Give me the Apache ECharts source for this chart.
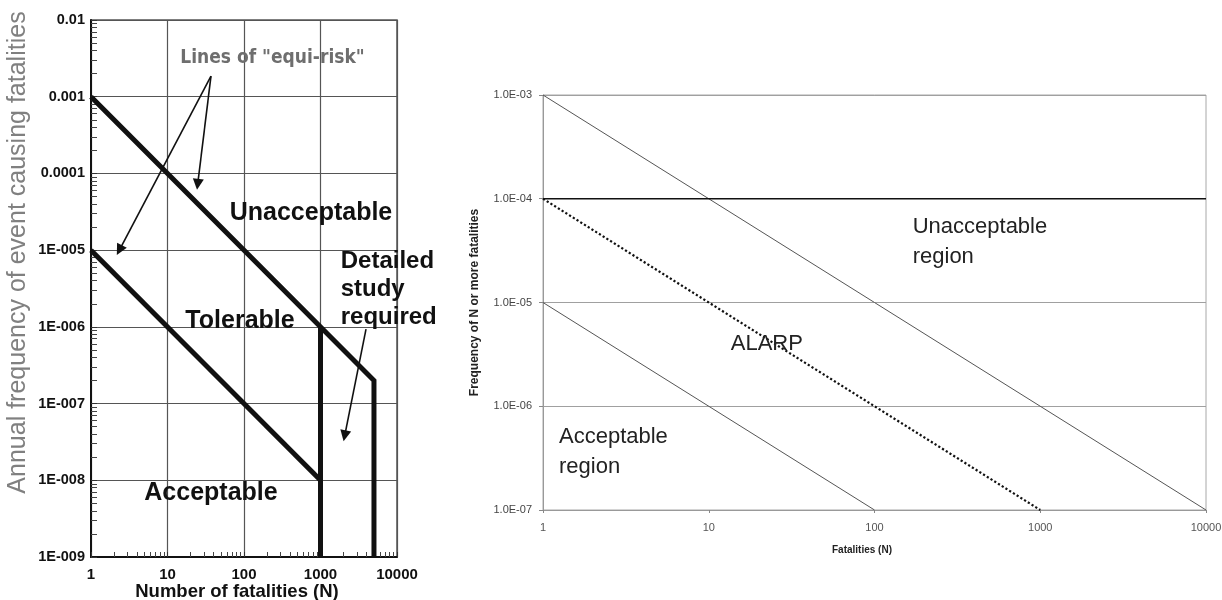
<!DOCTYPE html>
<html>
<head>
<meta charset="utf-8">
<script src="https://cdn.jsdelivr.net/npm/echarts@6/dist/echarts.min.js"></script>
<style>
html,body{margin:0;padding:0;background:#fff;}
#chart{width:1222px;height:600px;}
</style>
</head>
<body>
<div id="chart"></div>
<script>
// ---------- Left chart (F-N criterion) ----------
const leftXTickLabels = ['1', '10', '100', '1000', '10000'];
const leftYTickLabels = ['1E-009', '1E-008', '1E-007', '1E-006', '1E-005', '0.0001', '0.001', '0.01'];
const upperLineN = [1, 5000, 5000];
const upperLineF = [1e-3, 2e-7, 1e-9];
const lowerLineN = [1, 1000];
const lowerLineF = [1e-5, 1e-8];
const cutoffLineN = [1000, 1000];
const cutoffLineF = [1e-6, 1e-9];

// ---------- Right chart (ALARP) ----------
const rightXTickLabels = ['1', '10', '100', '1000', '10000'];
const rightYTickLabels = ['1.0E-07', '1.0E-06', '1.0E-05', '1.0E-04', '1.0E-03'];
const upperCritN = [1, 10000];
const upperCritF = [1e-3, 1e-7];
const alarpN = [1, 1000];
const alarpF = [1e-4, 1e-7];
const lowerCritN = [1, 100];
const lowerCritF = [1e-5, 1e-7];
const maxFreqN = [1, 10000];
const maxFreqF = [1e-4, 1e-4];

const FONT = '"Liberation Sans", Arial, sans-serif';
const pairs = (xs, ys) => xs.map((x, i) => [x, ys[i]]);
const expIdx = (v, offset) => Math.round(Math.log10(v)) + offset;

const chart = echarts.init(document.getElementById('chart'), null, {renderer: 'canvas'});

function lineSeries(name, xi, yi, data, style) {
  return {
    name, type: 'line', xAxisIndex: xi, yAxisIndex: yi, data,
    showSymbol: false, symbol: 'none', silent: true, animation: false,
    lineStyle: Object.assign({join: 'miter', cap: 'butt'}, style), z: 5
  };
}

function textItem(name, value, label) {
  return {name, value, label: Object.assign({show: true, formatter: '{b}', opacity: 1, textBorderWidth: 0}, label)};
}

const boldBig = {fontFamily: FONT, fontWeight: 'bold', fontSize: 25, color: '#111', position: 'inside'};
const rightTxt = {fontFamily: FONT, fontSize: 22, color: '#222', lineHeight: 30};

const option = {
  backgroundColor: '#ffffff',
  animation: false,
  grid: [
    {left: 91, top: 20, width: 306, height: 537, show: true, borderColor: '#555', borderWidth: 1.5,
     backgroundColor: 'transparent', containLabel: false, outerBoundsMode: 'none'},
    {left: 543, top: 95, width: 663, height: 415, show: true, borderColor: '#a8a8a8', borderWidth: 1,
     backgroundColor: 'transparent', containLabel: false, outerBoundsMode: 'none'}
  ],
  xAxis: [
    {
      type: 'log', logBase: 10, gridIndex: 0, min: 1, max: 10000,
      name: 'Number of fatalities (N)', nameLocation: 'middle', nameGap: 25, nameMoveOverlap: false,
      nameTextStyle: {fontFamily: FONT, fontWeight: 'bold', fontSize: 18.5, color: '#111', padding: [0, 14, 0, 0]},
      axisLine: {show: true, lineStyle: {color: '#111', width: 2}},
      axisTick: {show: true, inside: true, length: 5, lineStyle: {color: '#333'}},
      minorTick: {show: true, splitNumber: 9, length: 5, lineStyle: {color: '#444', width: 1}},
      splitLine: {show: true, lineStyle: {color: '#555', width: 1.2}},
      axisLabel: {fontFamily: FONT, fontWeight: 'bold', fontSize: 15, color: '#111', margin: 10,
        formatter: v => leftXTickLabels[expIdx(v, 0)]}
    },
    {
      type: 'log', logBase: 10, gridIndex: 1, min: 1, max: 10000,
      name: 'Fatalities (N)', nameLocation: 'middle', nameGap: 35,
      nameTextStyle: {fontFamily: FONT, fontWeight: 'bold', fontSize: 10, color: '#222', padding: [0, 25, 0, 0]},
      axisLine: {show: true, lineStyle: {color: '#999', width: 1}},
      axisTick: {show: true, length: 3, lineStyle: {color: '#888'}},
      splitLine: {show: false},
      axisLabel: {fontFamily: FONT, fontSize: 11, color: '#555', margin: 12,
        formatter: v => rightXTickLabels[expIdx(v, 0)]}
    }
  ],
  yAxis: [
    {
      type: 'log', logBase: 10, gridIndex: 0, min: 1e-9, max: 1e-2,
      name: 'Annual frequency of event causing fatalities', nameLocation: 'middle', nameGap: 60, nameRotate: 90,
      nameTextStyle: {fontFamily: FONT, fontSize: 25, color: '#808080', padding: [0, 0, 0, 72]},
      axisLine: {show: true, lineStyle: {color: '#111', width: 2}},
      axisTick: {show: true, inside: true, length: 6, lineStyle: {color: '#333'}},
      minorTick: {show: true, splitNumber: 9, length: 6, lineStyle: {color: '#444', width: 1}},
      splitLine: {show: true, lineStyle: {color: '#555', width: 1.2}},
      axisLabel: {fontFamily: FONT, fontWeight: 'bold', fontSize: 14.5, color: '#111', margin: 6,
        formatter: v => leftYTickLabels[expIdx(v, 9)]}
    },
    {
      type: 'log', logBase: 10, gridIndex: 1, min: 1e-7, max: 1e-3,
      name: 'Frequency of N or more fatalities', nameLocation: 'middle', nameGap: 62, nameRotate: 90,
      nameTextStyle: {fontFamily: FONT, fontWeight: 'bold', fontSize: 12, color: '#222'},
      axisLine: {show: true, lineStyle: {color: '#999', width: 1}},
      axisTick: {show: true, length: 4, lineStyle: {color: '#888'}},
      splitLine: {show: true, lineStyle: {color: '#a0a0a0', width: 1}},
      axisLabel: {fontFamily: FONT, fontSize: 11, color: '#444', margin: 11,
        formatter: v => rightYTickLabels[expIdx(v, 7)]}
    }
  ],
  series: [
    lineSeries('Upper equi-risk line', 0, 0, pairs(upperLineN, upperLineF), {color: '#111', width: 5}),
    lineSeries('Lower equi-risk line', 0, 0, pairs(lowerLineN, lowerLineF), {color: '#111', width: 5}),
    lineSeries('N cut-off', 0, 0, pairs(cutoffLineN, cutoffLineF), {color: '#111', width: 5}),
    {
      name: 'left annotations', type: 'scatter', xAxisIndex: 0, yAxisIndex: 0, symbolSize: 0, silent: true, z: 6,
      itemStyle: {opacity: 1},
      data: [
        textItem('Unacceptable', [751, 3.08e-5], boldBig),
        textItem('Tolerable', [88.7, 1.2e-6], boldBig),
        textItem('Acceptable', [37, 6.87e-9], boldBig),
        textItem('Detailed\nstudy\nrequired', [1837, 3.11e-6],
          Object.assign({}, boldBig, {position: 'right', distance: 0, align: 'left', lineHeight: 28, fontSize: 24})),
        textItem('Lines of "equi-risk"', [236, 3.17e-3],
          {position: 'inside', fontFamily: '"Liberation Sans Narrow", "DejaVu Sans Condensed", ' + FONT, fontWeight: 'bold', fontSize: 19, color: '#6e6e6e'})
      ],
      markLine: {
        silent: true, animation: false,
        symbol: ['none', 'triangle'], symbolSize: 11,
        label: {show: false},
        lineStyle: {color: '#111', width: 1.6, type: 'solid'},
        data: [
          [{coord: [37, 1.86e-3]}, {coord: [2.35, 1.0e-5]}],
          [{coord: [37, 1.86e-3]}, {coord: [24.8, 7.2e-5]}],
          [{coord: [3936, 9.36e-7]}, {coord: [2070, 3.8e-8]}]
        ]
      }
    },
    lineSeries('Upper criterion', 1, 1, pairs(upperCritN, upperCritF), {color: '#555', width: 1}),
    lineSeries('ALARP boundary', 1, 1, pairs(alarpN, alarpF), {color: '#111', width: 2.2, type: 'dotted'}),
    lineSeries('Lower criterion', 1, 1, pairs(lowerCritN, lowerCritF), {color: '#555', width: 1}),
    lineSeries('Maximum tolerable frequency', 1, 1, pairs(maxFreqN, maxFreqF), {color: '#111', width: 1.6}),
    {
      name: 'right annotations', type: 'scatter', xAxisIndex: 1, yAxisIndex: 1, symbolSize: 0, silent: true, z: 6,
      itemStyle: {opacity: 1},
      data: [
        textItem('Unacceptable\nregion', [170, 3.83e-5], Object.assign({position: 'right', distance: 0, align: 'left'}, rightTxt)),
        textItem('ALARP', [22.4, 4.02e-6], Object.assign({position: 'inside'}, rightTxt)),
        textItem('Acceptable\nregion', [1.249, 3.62e-7], Object.assign({position: 'right', distance: 0, align: 'left'}, rightTxt))
      ]
    }
  ]
};
chart.setOption(option);
</script>
</body>
</html>
